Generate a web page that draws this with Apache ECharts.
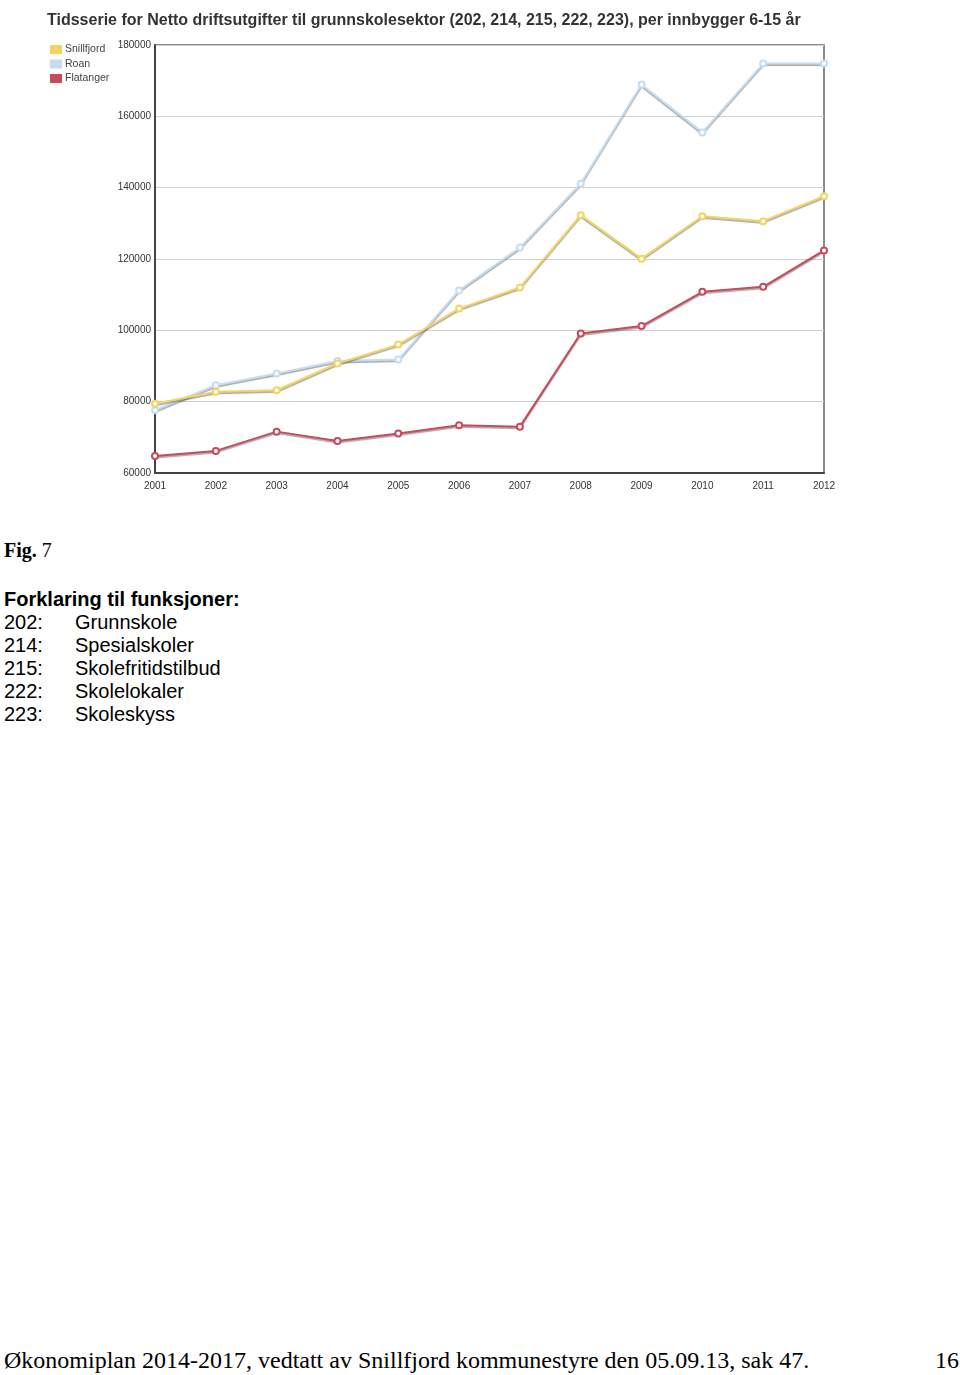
<!DOCTYPE html>
<html>
<head>
<meta charset="utf-8">
<script src="https://cdn.jsdelivr.net/npm/echarts@6/dist/echarts.min.js"></script>
<style>
  html, body { margin: 0; padding: 0; background: #fff; }
  body { width: 960px; height: 1375px; position: relative; overflow: hidden; }
  #chart { position: absolute; left: 0; top: 0; width: 960px; height: 500px; }
  .t { position: absolute; white-space: nowrap; color: #000; }
  .arial { font-family: "Liberation Sans", Arial, sans-serif; font-size: 20px; line-height: 23px; }
  .times { font-family: "Liberation Serif", "Times New Roman", serif; }
</style>
</head>
<body>
<div id="chart"></div>

<div class="t times" style="left:4px; top:538px; font-size:20px; line-height:24px;"><b>Fig.</b> 7</div>
<div class="t arial" style="left:4px; top:588px; font-weight:bold;">Forklaring til funksjoner:</div>
<div class="t arial" id="funcs" style="left:4px; top:611px;"></div>
<div class="t times" style="left:4px; top:1346px; font-size:24px; line-height:28px;">Økonomiplan 2014-2017, vedtatt av Snillfjord kommunestyre den 05.09.13, sak 47.</div>
<div class="t times" style="left:935px; top:1346px; font-size:24px; line-height:28px;">16</div>

<script>
const years = ['2001','2002','2003','2004','2005','2006','2007','2008','2009','2010','2011','2012'];
const snillfjord = [79400, 82800, 83200, 90700, 96000, 106100, 112000, 132300, 120100, 132000, 130600, 137600];
const roan       = [77600, 84600, 87900, 91400, 91800, 111200, 123200, 141100, 168900, 155500, 174800, 174800];
const flatanger  = [64800, 66200, 71600, 69000, 71100, 73400, 73000, 99100, 101200, 110800, 112200, 122400];
const seriesNames = ['Snillfjord', 'Roan', 'Flatanger'];
const funcCodes = ['202:', '214:', '215:', '222:', '223:'];
const funcNames = ['Grunnskole', 'Spesialskoler', 'Skolefritidstilbud', 'Skolelokaler', 'Skoleskyss'];

const funcsEl = document.getElementById('funcs');
funcCodes.forEach((c, i) => {
  const row = document.createElement('div');
  row.style.position = 'relative';
  row.style.height = '23px';
  row.innerHTML = '<span style="position:absolute;left:0">' + c + '</span><span style="position:absolute;left:71px">' + funcNames[i] + '</span>';
  funcsEl.appendChild(row);
});

const colors = ['#f2d463', '#c5ddf0', '#c84a5c'];
const datasets = [snillfjord, roan, flatanger];

const chart = echarts.init(document.getElementById('chart'), null, { renderer: 'canvas' });
chart.setOption({
  animation: false,
  title: {
    text: 'Tidsserie for Netto driftsutgifter til grunnskolesektor (202, 214, 215, 222, 223), per innbygger 6-15 år',
    left: 42, top: 8,
    textStyle: { fontFamily: '"Liberation Sans", Arial, sans-serif', fontSize: 16, fontWeight: 'bold', color: '#333' }
  },
  legend: {
    orient: 'vertical', left: 45, top: 39,
    icon: 'rect', itemWidth: 12, itemHeight: 9, itemGap: 3.5,
    data: seriesNames,
    textStyle: { fontFamily: '"Liberation Sans", Arial, sans-serif', fontSize: 10.5, color: '#444', padding: [0,0,0,-2] }
  },
  grid: { left: 155, right: 136, top: 45, height: 428, show: true, borderColor: '#666', borderWidth: 1.5 },
  xAxis: {
    type: 'category', data: years, boundaryGap: false,
    axisLine: { lineStyle: { color: '#444', width: 2 } },
    axisTick: { show: false },
    axisLabel: { fontFamily: '"Liberation Sans", Arial, sans-serif', fontSize: 10, color: '#333', margin: 8 }
  },
  yAxis: {
    type: 'value', min: 60000, max: 180000, interval: 20000,
    axisLine: { show: true, lineStyle: { color: '#444', width: 2 } },
    axisTick: { show: false },
    splitLine: { lineStyle: { color: '#cfcfcf', width: 1 } },
    axisLabel: { fontFamily: '"Liberation Sans", Arial, sans-serif', fontSize: 10, color: '#333', margin: 4, formatter: v => String(v) }
  },
  series: seriesNames.map((n, i) => ({
    name: n, type: 'line', data: datasets[i],
    color: colors[i],
    symbol: 'emptyCircle', symbolSize: 6,
    lineStyle: { width: 2, color: colors[i], shadowColor: 'rgba(60,60,60,0.45)', shadowBlur: 1, shadowOffsetY: 1.5 },
    itemStyle: { color: colors[i], borderWidth: 1.5 },
    z: 3 - i
  }))
});
</script>
</body>
</html>
